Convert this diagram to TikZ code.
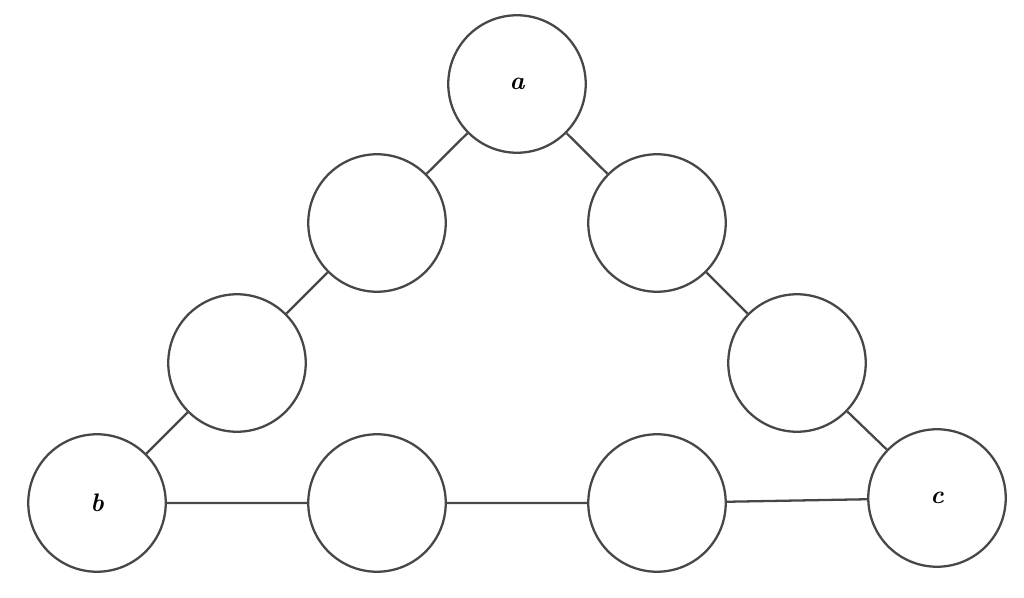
\documentclass[tikz,border=0pt]{standalone}
\begin{document}
\begin{tikzpicture}[x=0.02cm,y=-0.02cm,
  vtx/.style={circle,draw=black!72,line width=1.3pt,minimum size=2.75cm,inner sep=0pt,font=\Large\bfseries\itshape},
  edge/.style={draw=black!72,line width=1.3pt}]
\useasboundingbox (0,0) rectangle (1024,598);
\node[vtx] (a) at (517,84) {a};
\node[vtx] (l1) at (377,223) {};
\node[vtx] (r1) at (657,223) {};
\node[vtx] (l2) at (237,363) {};
\node[vtx] (r2) at (797,363) {};
\node[vtx] (b) at (97,503) {b};
\node[vtx] (m1) at (377,503) {};
\node[vtx] (m2) at (657,503) {};
\node[vtx] (c) at (937,498) {c};
\path[edge] (a)--(l1) (l1)--(l2) (l2)--(b) (a)--(r1) (r1)--(r2) (r2)--(c)
  (b)--(m1) (m1)--(m2) (m2)--(c);
\end{tikzpicture}
\end{document}
